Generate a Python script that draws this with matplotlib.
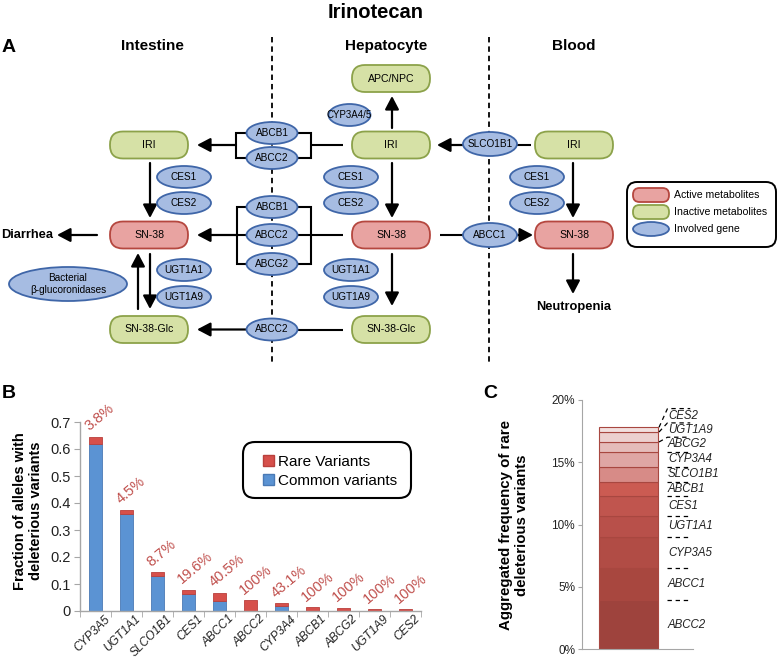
import matplotlib
matplotlib.use('Agg')
import matplotlib.pyplot as plt
from matplotlib.patches import FancyBboxPatch, Ellipse, Patch
from matplotlib.transforms import ScaledTranslation
import numpy as np

plt.rcParams['font.family'] = ['Liberation Sans', 'DejaVu Sans']

# ---------------- Panel B data ----------------
genes_b = ['CYP3A5', 'UGT1A1', 'SLCO1B1', 'CES1', 'ABCC1', 'ABCC2',
           'CYP3A4', 'ABCB1', 'ABCG2', 'UGT1A9', 'CES2']
common_b = [0.620, 0.358, 0.131, 0.063, 0.038, 0.0, 0.017, 0.0, 0.0, 0.0, 0.0]
rare_b = [0.025, 0.017, 0.013, 0.016, 0.029, 0.039, 0.012, 0.014, 0.011, 0.007, 0.007]
pct_labels = ['3.8%', '4.5%', '8.7%', '19.6%', '40.5%', '100%', '43.1%',
              '100%', '100%', '100%', '100%']
yticks_b = [0, 0.1, 0.2, 0.3, 0.4, 0.5, 0.6, 0.7]
ytick_labels_b = ['0', '0.1', '0.2', '0.3', '0.4', '0.5', '0.6', '0.7']

# ---------------- Panel C data ----------------
genes_c = ['ABCC2', 'ABCC1', 'CYP3A5', 'UGT1A1', 'CES1', 'ABCB1',
           'SLCO1B1', 'CYP3A4', 'ABCG2', 'UGT1A9', 'CES2']
agg_c = [3.90, 2.62, 2.46, 1.72, 1.55, 1.20, 1.20, 1.21, 0.77, 0.80, 0.38]
yticks_c = [0, 5, 10, 15, 20]
ytick_labels_c = ['0%', '5%', '10%', '15%', '20%']

# ---------------- styles ----------------
RED_F, RED_E = '#E8A3A1', '#B5473F'
GRN_F, GRN_E = '#D6E1A6', '#8CA24A'
BLU_F, BLU_E = '#A6BCE2', '#3F66A8'
BAR_BLUE, BAR_BLUE_E = '#5B93D3', '#4A7AB5'
BAR_RED, BAR_RED_E = '#D6504B', '#B9403C'
PCT_COLOR = '#C0504D'
AX_GRAY = '#A6A6A6'
C_COLORS = ['#9E433D', '#A8473F', '#B14C45', '#B8504A', '#C0554E', '#CB5B52',
            '#D78B87', '#DFA6A4', '#E5BCBA', '#ECD0CF', '#F2E0DF']

W, H = 778, 660
fig = plt.figure(figsize=(W / 100, H / 100), dpi=100)

# ---------------- Panel B ----------------
axB = fig.add_axes([80 / W, (H - 611) / H, 341 / W, 189 / H])
x = np.arange(len(genes_b))
axB.bar(x, common_b, 0.43, color=BAR_BLUE, edgecolor=BAR_BLUE_E, lw=0.6, zorder=2)
axB.bar(x, rare_b, 0.43, bottom=common_b, color=BAR_RED, edgecolor=BAR_RED_E, lw=0.6, zorder=2)
axB.set_xlim(-0.5, len(genes_b) - 0.5)
axB.set_ylim(0, 0.7)
for s in ['top', 'right']:
    axB.spines[s].set_visible(False)
for s in ['left', 'bottom']:
    axB.spines[s].set_color(AX_GRAY)
    axB.spines[s].set_linewidth(1.0)
axB.set_yticks(yticks_b)
axB.set_yticklabels(ytick_labels_b, fontsize=10.5, color='#222222')
axB.tick_params(axis='y', length=4, color=AX_GRAY, pad=3)
axB.set_xticks(x)
axB.set_xticklabels(genes_b, rotation=45, ha='right', va='top', rotation_mode='anchor',
                    fontsize=8.6, style='italic', color='#222222')
axB.tick_params(axis='x', which='major', length=0, pad=1.5)
off = ScaledTranslation(6 / 72, 0, fig.dpi_scale_trans)
for lbl in axB.get_xticklabels():
    lbl.set_transform(lbl.get_transform() + off)
axB.set_xticks(np.arange(-0.5, len(genes_b), 1), minor=True)
axB.tick_params(axis='x', which='minor', length=4, color=AX_GRAY)
for i, (c, r, lab) in enumerate(zip(common_b, rare_b, pct_labels)):
    axB.text(i - 0.14, c + r + 0.012, lab, rotation=40, ha='left', va='bottom',
             rotation_mode='anchor', color=PCT_COLOR, fontsize=10.5, clip_on=False)
leg = axB.legend([Patch(facecolor=BAR_RED, edgecolor=BAR_RED_E),
                  Patch(facecolor=BAR_BLUE, edgecolor=BAR_BLUE_E)],
                 ['Rare Variants', 'Common variants'],
                 loc='upper left', bbox_to_anchor=(252 / W, 1 - 444 / H),
                 bbox_transform=fig.transFigure, frameon=False, fontsize=11,
                 handlelength=0.75, handleheight=0.75, handletextpad=0.25,
                 labelspacing=0.35, borderpad=0.2)

# ---------------- Panel C ----------------
axC = fig.add_axes([582 / W, (H - 649) / H, 111 / W, 249 / H])
bottoms = np.concatenate([[0], np.cumsum(agg_c)[:-1]])
tops = np.cumsum(agg_c)
axC.bar(0.419, agg_c, 0.53, bottom=bottoms, color=C_COLORS, edgecolor='#A84740', lw=0.8, zorder=2)
axC.set_xlim(0, 1)
axC.set_ylim(0, 20)
for s in ['top', 'right']:
    axC.spines[s].set_visible(False)
for s in ['left', 'bottom']:
    axC.spines[s].set_color(AX_GRAY)
axC.set_xticks([])
axC.set_yticks(yticks_c)
axC.set_yticklabels(ytick_labels_c, fontsize=8.5, color='#222222')
axC.tick_params(axis='y', length=3, color=AX_GRAY, pad=2)
# label slots (layout): keep a minimal spacing between labels
min_gap = 1.15
lb = []
prev = 0.0
for t in tops:
    v = max(t, prev + min_gap)
    lb.append(v)
    prev = v
bar_right = 0.419 + 0.53 / 2
x_start, x_end = 0.77, 0.975
for t, l in zip(tops, lb):
    if abs(l - t) > 1e-6:
        axC.plot([bar_right + 0.01, x_start, x_end], [t, l, l], color='black', lw=0.9,
                 dashes=(3.5, 3), clip_on=False)
    else:
        axC.plot([x_start, x_end], [t, t], color='black', lw=0.9, dashes=(3.5, 3), clip_on=False)
lows = [0.0] + lb[:-1]
for g, lo, hi in zip(genes_c, lows, lb):
    axC.text(0.775, (lo + hi) / 2, g, ha='left', va='center', fontsize=8.3,
             style='italic', color='#222222', clip_on=False)

# ---------------- Overlay (panel A + labels) ----------------
ax0 = fig.add_axes([0, 0, 1, 1])
ax0.set_xlim(0, W)
ax0.set_ylim(H, 0)
ax0.axis('off')
ax0.set_zorder(10)
ax0.patch.set_visible(False)

ax0.text(376, 12, 'Irinotecan', ha='center', va='center', fontsize=14.5, fontweight='bold')
ax0.text(2, 48, 'A', ha='left', va='center', fontsize=14, fontweight='bold')
ax0.text(2, 393, 'B', ha='left', va='center', fontsize=14, fontweight='bold')
ax0.text(483, 393, 'C', ha='left', va='center', fontsize=14, fontweight='bold')
for name, cx in [('Intestine', 152), ('Hepatocyte', 386), ('Blood', 574)]:
    ax0.text(cx, 46, name, ha='center', va='center', fontsize=11, fontweight='bold')

# compartment separators
for xd in [272, 489]:
    ax0.plot([xd, xd], [37, 362], color='black', lw=1.3, dashes=(3, 2.2), zorder=1)


def pill(cx, cy, text, kind, w=78, h=27):
    fc, ec = (RED_F, RED_E) if kind == 'active' else (GRN_F, GRN_E)
    p = FancyBboxPatch((cx - w / 2, cy - h / 2), w, h,
                       boxstyle='round,pad=0,rounding_size=%g' % (h / 2 - 0.5),
                       fc=fc, ec=ec, lw=1.3, zorder=4)
    ax0.add_patch(p)
    if text:
        ax0.text(cx, cy, text, ha='center', va='center', fontsize=7.6, zorder=5)


def gene(cx, cy, text, w=54, h=22, fs=7.2):
    e = Ellipse((cx, cy), w, h, fc=BLU_F, ec=BLU_E, lw=1.3, zorder=4)
    ax0.add_patch(e)
    if text:
        ax0.text(cx, cy, text, ha='center', va='center', fontsize=fs, zorder=5,
                 linespacing=1.3)


def line(xs, ys):
    ax0.plot(xs, ys, color='black', lw=1.5, zorder=2, solid_capstyle='butt',
             solid_joinstyle='miter')


def arrow(x1, y1, x2, y2):
    ax0.annotate('', xy=(x2, y2), xytext=(x1, y1), zorder=3,
                 arrowprops=dict(arrowstyle='-|>,head_length=0.8,head_width=0.42',
                                 mutation_scale=10, lw=1.6, color='black',
                                 shrinkA=0, shrinkB=0))


# metabolites
pill(149, 145, 'IRI', 'inactive')
pill(391, 145, 'IRI', 'inactive')
pill(574, 145, 'IRI', 'inactive')
pill(391, 78.5, 'APC/NPC', 'inactive')
pill(149, 235, 'SN-38', 'active')
pill(391, 235, 'SN-38', 'active')
pill(574, 235, 'SN-38', 'active')
pill(149, 329.5, 'SN-38-Glc', 'inactive')
pill(391, 329.5, 'SN-38-Glc', 'inactive')

# top transport bracket (ABCB1/ABCC2)
gene(272, 133, 'ABCB1', w=51)
gene(272, 158, 'ABCC2', w=51)
line([343, 311], [145, 145])
line([297.5, 311, 311, 297.5], [133, 133, 158, 158])
line([246.5, 236, 236, 246.5], [133, 133, 158, 158])
arrow(236, 145, 197, 145)

# middle transport bracket (ABCB1/ABCC2/ABCG2)
gene(272, 207, 'ABCB1', w=51)
gene(272, 235, 'ABCC2', w=51)
gene(272, 264, 'ABCG2', w=51)
line([343, 297.5], [235, 235])
line([297.5, 311, 311, 297.5], [207, 207, 264, 264])
line([246.5, 237, 237, 246.5], [207, 207, 264, 264])
line([237, 246.5], [235, 235])
arrow(237, 235, 197, 235)

# bottom transport (ABCC2)
gene(272, 329.5, 'ABCC2', w=51)
line([343, 297.5], [329.5, 329.5])
arrow(246.5, 329.5, 197, 329.5)

# SLCO1B1 uptake
gene(490, 144, 'SLCO1B1', w=54, h=24)
line([517, 531], [145, 145])
arrow(463, 145, 437, 145)

# ABCC1 efflux
gene(490, 235, 'ABCC1', w=54, h=24)
line([440, 463], [235, 235])
arrow(517, 235, 533, 235)

# CYP3A4/5
gene(349.5, 115, 'CYP3A4/5', w=42, h=22, fs=7.0)
arrow(392, 128, 392, 96)

# carboxylesterases
for cx in [184, 351, 537]:
    gene(cx, 177, 'CES1')
    gene(cx, 203, 'CES2')
# UGTs
for cx in [184, 351]:
    gene(cx, 270, 'UGT1A1')
    gene(cx, 297, 'UGT1A9')

gene(68, 284, 'Bacterial\n\u03b2-glucoronidases', w=118, h=34, fs=7.2)

# vertical conversions
arrow(150, 163, 150, 218)
arrow(392, 163, 392, 218)
arrow(573, 163, 573, 218)
arrow(392, 254, 392, 306)
arrow(150, 254, 150, 309)
arrow(138, 309, 138, 253)
arrow(573, 254, 573, 294)

# outcomes
arrow(97, 235, 57, 235)
ax0.text(1, 235, 'Diarrhea', ha='left', va='center', fontsize=9.3, fontweight='bold')
ax0.text(574, 307, 'Neutropenia', ha='center', va='center', fontsize=9.3, fontweight='bold')

# legend of panel A
ax0.add_patch(FancyBboxPatch((627, 182), 149, 65, boxstyle='round,pad=0,rounding_size=10',
                             fc='white', ec='black', lw=1.4, zorder=4))
pill(651, 195, None, 'active', w=36, h=14)
pill(651, 212, None, 'inactive', w=36, h=14)
gene(651, 229, None, w=36, h=14)
for yy, t in [(195, 'Active metabolites'), (212, 'Inactive metabolites'), (229, 'Involved gene')]:
    ax0.text(674, yy, t, ha='left', va='center', fontsize=7.6, zorder=5)

# legend frame of panel B
ax0.add_patch(FancyBboxPatch((243, 442), 168, 56, boxstyle='round,pad=0,rounding_size=12',
                             fc='none', ec='black', lw=1.5, zorder=4))

# axis titles
ax0.text(28, 511, 'Fraction of alleles with\ndeleterious variants', rotation=90,
         ha='center', va='center', fontsize=10.5, fontweight='bold', multialignment='center',
         linespacing=1.15)
ax0.text(514, 525, 'Aggregated frequency of rare\ndeleterious variants', rotation=90,
         ha='center', va='center', fontsize=10.8, fontweight='bold', multialignment='center',
         linespacing=1.15)

fig.savefig('out.png', dpi=100)
